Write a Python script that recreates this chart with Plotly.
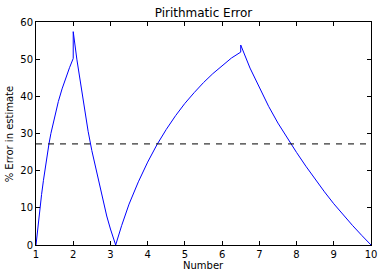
import plotly.graph_objects as go

# Segment 1: rising from x=1 to x=2
x_seg1 = [1.0, 1.05, 1.1, 1.15, 1.2, 1.25, 1.3, 1.35, 1.4, 1.5, 1.6, 1.7, 1.8, 1.9, 2.0]
y_seg1 = [0.0, 5.0, 9.5, 13.6, 17.4, 21.0, 24.3, 27.3, 30.0, 34.6, 38.6, 42.0, 45.0, 47.7, 50.2]
# Segment 2: jump at x=2 then fall to zero near sqrt(10)
x_seg2 = [2.0, 2.1, 2.2, 2.3, 2.4, 2.5, 2.6, 2.7, 2.8, 2.9, 3.0, 3.14]
y_seg2 = [57.4, 49.8, 43.0, 36.8, 30.6, 25.4, 20.9, 16.0, 11.6, 7.8, 4.3, 0.0]
# Segment 3: rising from zero to x=6.5
x_seg3 = [3.3, 3.5, 3.75, 4.0, 4.25, 4.5, 4.75, 5.0, 5.25, 5.5, 5.75, 6.0, 6.25, 6.5]
y_seg3 = [5.2, 11.0, 17.0, 22.3, 27.0, 31.1, 34.8, 38.1, 41.0, 43.7, 46.1, 48.3, 50.3, 51.9]
# Segment 4: jump at x=6.5 then fall to zero at x=10
x_seg4 = [6.5, 6.75, 7.0, 7.25, 7.5, 7.75, 8.0, 8.25, 8.5, 8.75, 9.0, 9.25, 9.5, 9.75, 10.0]
y_seg4 = [53.8, 47.6, 42.4, 37.3, 32.8, 28.7, 24.9, 21.2, 17.6, 14.3, 11.1, 8.1, 5.3, 2.6, 0.0]

mean_error = 27.2
x_ticks = [1, 2, 3, 4, 5, 6, 7, 8, 9, 10]
y_ticks = [0, 10, 20, 30, 40, 50, 60]

x_all = x_seg1 + x_seg2 + x_seg3 + x_seg4
y_all = y_seg1 + y_seg2 + y_seg3 + y_seg4

FONT = "DejaVu Sans"

fig = go.Figure()
fig.add_trace(go.Scatter(x=x_all, y=y_all, mode="lines",
                         line=dict(color="#0000ff", width=1), showlegend=False))
fig.add_trace(go.Scatter(x=[x_ticks[0], x_ticks[-1]], y=[mean_error, mean_error], mode="lines",
                         line=dict(color="black", width=1, dash="6px,6px"), showlegend=False))

axis_common = dict(showline=True, linecolor="black", linewidth=1, mirror="ticks",
                   ticks="inside", ticklen=4, tickcolor="black", tickwidth=1,
                   showgrid=False, zeroline=False, automargin=False,
                   tickfont=dict(family=FONT, size=10, color="black"))

fig.update_layout(
    width=383, height=277,
    margin=dict(l=36, r=12, t=22, b=32, autoexpand=False),
    paper_bgcolor="white", plot_bgcolor="white",
    font=dict(family=FONT, size=10, color="black"),
    title=dict(text="Pirithmatic Error", x=0.5, xref="paper", xanchor="center",
               y=1 - 13 / 277, yref="container", yanchor="middle",
               font=dict(family=FONT, size=12, color="black")),
    xaxis=dict(range=[1, 10], tickvals=x_ticks, ticktext=[str(v) for v in x_ticks], **axis_common),
    yaxis=dict(range=[0, 60], tickvals=y_ticks, ticktext=[str(v) for v in y_ticks], **axis_common),
    annotations=[
        dict(text="Number", x=0.5, xref="paper", y=-0.094, yref="paper",
             xanchor="center", yanchor="middle", showarrow=False,
             font=dict(family=FONT, size=10, color="black")),
        dict(text="% Error in estimate", x=-0.078, xref="paper", y=0.5, yref="paper",
             xanchor="center", yanchor="middle", showarrow=False, textangle=-90,
             font=dict(family=FONT, size=10, color="black")),
    ],
)

fig.write_html("out.html")
